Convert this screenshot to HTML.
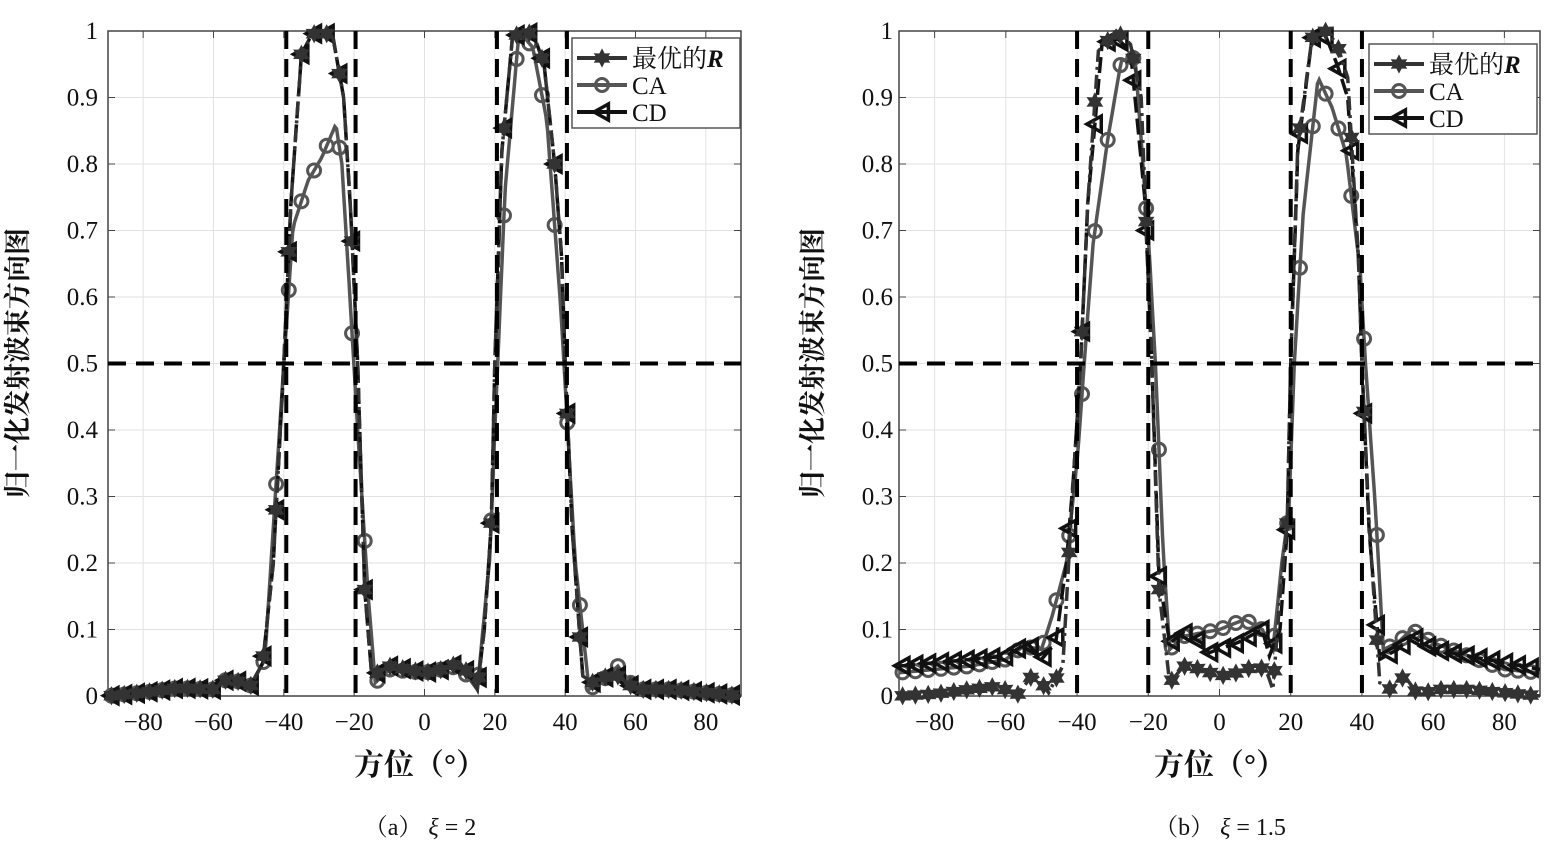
<!DOCTYPE html>
<html><head><meta charset="utf-8"><style>
body{margin:0;background:#fff;}
svg text{font-family:"Liberation Serif","Noto Serif CJK SC",serif;}
</style></head><body>
<svg id="s" width="1552" height="860" xmlns="http://www.w3.org/2000/svg"></svg>
<script>
const S=document.getElementById('s');let h='';
function interp(pts,d){for(let i=0;i<pts.length-1;i++){const a=pts[i],b=pts[i+1];if(d>=a[0]&&d<=b[0]){return a[1]+(b[1]-a[1])*(d-a[0])/(b[0]-a[0]);}}return pts[pts.length-1][1];}
function star(x,y,r,c){let p='';for(let i=0;i<12;i++){const a=Math.PI/6*i-Math.PI/2;const rr=i%2?r*0.55:r;p+=(x+rr*Math.cos(a)).toFixed(1)+','+(y+rr*Math.sin(a)).toFixed(1)+' ';}return `<polygon points="${p}" fill="${c}" stroke="${c}" stroke-width="1.5"/>`;}
function tri(x,y,r,c){return `<polygon points="${x-r},${y} ${x+r*0.8},${y-r} ${x+r*0.8},${y+r}" fill="none" stroke="${c}" stroke-width="3.5"/>`;}
function circ(x,y,r,c){return `<circle cx="${x}" cy="${y}" r="${r}" fill="none" stroke="${c}" stroke-width="3"/>`;}
function plot(x0,x1,vl,series,ylabX,tickX,legX,legY,xlabC,cap){
 const X=d=>x0+(d+90)*(x1-x0)/180, Y=v=>696-v*665;
 for(let d=-80;d<=80;d+=20)h+=`<line x1="${X(d)}" y1="31" x2="${X(d)}" y2="696" stroke="#e2e2e2" stroke-width="1"/>`;
 for(let v=0.1;v<1;v+=0.1)h+=`<line x1="${x0}" y1="${Y(v)}" x2="${x1}" y2="${Y(v)}" stroke="#e2e2e2" stroke-width="1"/>`;
 h+=`<rect x="${x0}" y="31" width="${x1-x0}" height="665" fill="none" stroke="#444" stroke-width="1.5"/>`;
 for(let d=-80;d<=80;d+=20){h+=`<line x1="${X(d)}" y1="696" x2="${X(d)}" y2="689" stroke="#444"/><line x1="${X(d)}" y1="31" x2="${X(d)}" y2="38" stroke="#444"/>`;
  h+=`<text x="${X(d)}" y="730" font-size="25" text-anchor="middle" fill="#111">${d<0?'−'+(-d):d}</text>`;}
 for(let i=0;i<=10;i++){const v=i/10;h+=`<line x1="${x0}" y1="${Y(v)}" x2="${x0+7}" y2="${Y(v)}" stroke="#444"/><line x1="${x1}" y1="${Y(v)}" x2="${x1-7}" y2="${Y(v)}" stroke="#444"/>`;
  h+=`<text x="${tickX}" y="${Y(v)+8}" font-size="25" text-anchor="end" fill="#111">${i==0?'0':i==10?'1':'0.'+i}</text>`;}
 series.forEach(s=>{let p='';for(let d=-90;d<=90;d+=0.5)p+=X(d).toFixed(1)+','+Y(interp(s.pts,d)).toFixed(1)+' ';
  h+=`<polyline points="${p}" fill="none" stroke="${s.c}" stroke-width="3.5" ${s.dash?'stroke-dasharray="'+s.dash+'"':''}/>`;
  for(let d=-89;d<=89;d+=3.6){const x=X(d),y=Y(interp(s.pts,d));h+=s.m=='s'?star(x,y,8,s.c):s.m=='o'?circ(x,y,6.5,s.c):tri(x,y,8,s.c);}
 });
 vl.forEach(d=>h+=`<line x1="${X(d)}" y1="31" x2="${X(d)}" y2="696" stroke="#000" stroke-width="4" stroke-dasharray="18,10"/>`);
 h+=`<line x1="${x0}" y1="${Y(0.5)}" x2="${x1}" y2="${Y(0.5)}" stroke="#000" stroke-width="4" stroke-dasharray="18,10"/>`;
 h+=`<rect x="${legX}" y="${legY}" width="168" height="90" fill="#fff" stroke="#555" stroke-width="1.5"/>`;
 const L=[['最优的','s','#333'],['CA','o','#555'],['CD','t','#111']];
 L.forEach((l,i)=>{const y=legY+20+i*27,lx=legX+5;h+=`<line x1="${lx}" y1="${y}" x2="${lx+50}" y2="${y}" stroke="${l[2]}" stroke-width="4"/>`;
  h+=l[1]=='s'?star(lx+25,y,8,l[2]):l[1]=='o'?circ(lx+25,y,6.5,l[2]):tri(lx+25,y,8,l[2]);
  h+=`<text x="${lx+55}" y="${y+9}" font-size="25" fill="#111">${l[0]}${i==0?'<tspan font-weight="bold" font-style="italic">R</tspan>':''}</text>`;});
 h+=`<text x="${xlabC}" y="775" font-size="30" font-weight="bold" text-anchor="middle" fill="#111" font-family="Noto Sans CJK SC,sans-serif">方位（°）</text>`;
 h+=`<text transform="translate(${ylabX},363) rotate(-90)" font-size="27" font-weight="bold" text-anchor="middle" fill="#111" font-family="Noto Sans CJK SC,sans-serif">归一化发射波束方向图</text>`;
 h+=`<text x="${xlabC}" y="835" font-size="24" text-anchor="middle" fill="#111">${cap}</text>`;
}
const optL=[[-90,0],[-80,.005],[-70,.012],[-60,.01],[-55,.03],[-50,.01],[-46,.05],[-43,.2],[-40,.5],[-38,.74],[-35,.965],[-32,.995],[-29,1],[-26,.99],[-23,.9],[-21,.73],[-19,.5],[-17,.16],[-15,.03],[-10,.045],[-5,.04],[0,.035],[5,.04],[10,.05],[13,.03],[15,.01],[17,.1],[19,.26],[20,.5],[22,.82],[25,.99],[28,1],[31,.995],[34,.95],[37,.8],[39,.66],[40,.5],[42,.25],[45,.03],[48,.02],[52,.03],[55,.03],[60,.01],[70,.01],[80,.005],[90,0]];
const caL=[[-90,0],[-80,.005],[-70,.012],[-60,.01],[-55,.03],[-50,.01],[-45.4,.055],[-41.7,.36],[-40,.5],[-37.4,.705],[-33.1,.775],[-29.2,.81],[-25.2,.86],[-23.5,.8],[-21.2,.6],[-19,.4],[-16,.15],[-14,.02],[-10,.04],[0,.035],[10,.045],[15,.01],[18.6,.21],[20,.4],[22.9,.76],[26.9,1],[30.8,.975],[34.8,.865],[38.8,.58],[42.8,.205],[46.8,.01],[50,.02],[55,.045],[60,.01],[70,.01],[90,0]];
const optR=[[-90,0],[-80,.003],[-70,.01],[-62,.015],[-57,0],[-52,.035],[-48,.005],[-44,.045],[-41,.33],[-39,.5],[-37,.74],[-34,.97],[-29,1],[-25,.98],[-22,.9],[-19,.5],[-17,.16],[-14,.02],[-10,.045],[-5,.04],[0,.03],[5,.035],[10,.045],[13,.04],[15,.01],[17,.15],[19,.26],[20,.5],[22,.83],[26,.99],[30,1],[33,.98],[36,.93],[39,.66],[40,.5],[42,.26],[45,.02],[48,.01],[52,.03],[56,0],[60,.01],[70,.01],[90,0]];
const caR=[[-90,.035],[-70,.045],[-60,.055],[-55,.075],[-50,.07],[-47,.12],[-43,.2],[-39.7,.37],[-38,.5],[-35.5,.68],[-31.3,.84],[-27.6,.955],[-23.7,.96],[-19.8,.675],[-18,.5],[-15.8,.215],[-14,.07],[-10,.09],[0,.1],[7,.115],[12,.1],[15,.07],[17.5,.2],[19.5,.28],[21,.5],[23.5,.725],[27.7,.93],[31.6,.885],[35.6,.815],[39.5,.64],[41,.5],[43.7,.29],[46,.07],[50,.08],[54,.1],[60,.08],[70,.06],[80,.04],[90,.035]];
const cdR=[[-90,.045],[-70,.055],[-60,.06],[-54,.08],[-50,.055],[-46,.08],[-43,.2],[-41,.33],[-39,.5],[-37,.74],[-33,.98],[-29,.99],[-25,.97],[-21,.75],[-19,.5],[-17,.18],[-14,.08],[-10,.095],[-5,.08],[-3,.065],[5,.08],[12,.1],[14,.06],[17,.1],[19,.25],[20,.5],[22,.82],[26,.99],[30,.99],[33,.95],[36,.9],[39,.66],[40,.5],[42,.25],[45,.055],[50,.07],[54,.09],[60,.07],[70,.06],[80,.05],[90,.04]];
plot(108,741,[-39.3,-19.6,20.6,40.5],[{pts:caL,c:'#555',m:'o'},{pts:optL,c:'#111',m:'t',dash:'16,6'},{pts:optL,c:'#333',m:'s',dash:'14,5,3,5'}],27,98,572,38,420,'（a） <tspan font-style="italic">ξ</tspan> = 2');
plot(899,1540,[-40,-20,20,40],[{pts:caR,c:'#555',m:'o'},{pts:cdR,c:'#111',m:'t',dash:'16,6'},{pts:optR,c:'#333',m:'s',dash:'14,5,3,5'}],822,893,1369,44,1220,'（b） <tspan font-style="italic">ξ</tspan> = 1.5');
S.innerHTML=h;
</script>
</body></html>
